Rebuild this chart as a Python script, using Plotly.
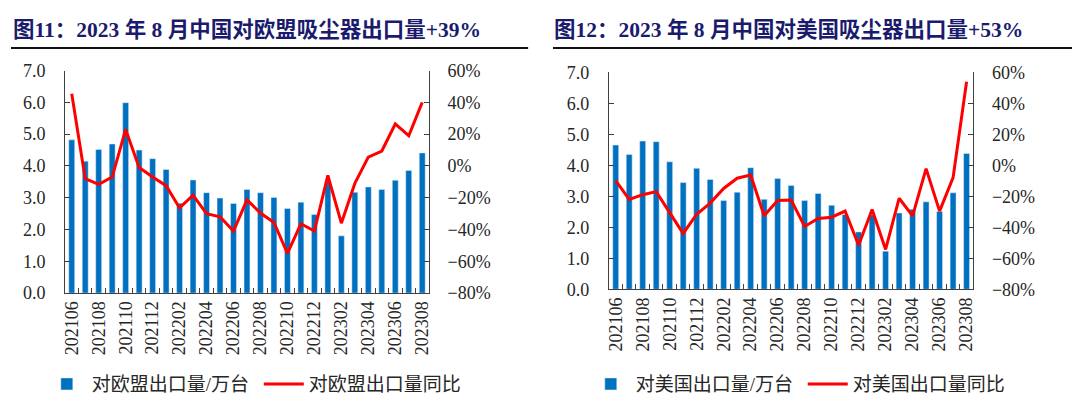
import plotly.graph_objects as go

months = ["202106", "202107", "202108", "202109", "202110", "202111", "202112",
          "202201", "202202", "202203", "202204", "202205", "202206", "202207",
          "202208", "202209", "202210", "202211", "202212", "202301", "202302",
          "202303", "202304", "202305", "202306", "202307", "202308"]
tick_text = [m if i % 2 == 0 else "" for i, m in enumerate(months)]

eu_volume = [4.82, 4.15, 4.52, 4.69, 5.99, 4.50, 4.23, 3.89, 2.83, 3.56, 3.16, 2.99,
             2.82, 3.26, 3.16, 3.01, 2.66, 2.86, 2.47, 3.50, 1.80, 3.17, 3.34, 3.26,
             3.55, 3.86, 4.41]
eu_yoy = [45.4, -8.0, -11.6, -7.0, 23.0, -1.0, -7.0, -12.4, -26.4, -18.4, -30.0, -32.0,
          -41.0, -21.4, -29.6, -35.6, -55.0, -36.4, -41.0, -6.0, -36.0, -11.0, 5.6, 9.4,
          26.4, 19.0, 40.0]

us_volume = [4.65, 4.35, 4.78, 4.76, 4.11, 3.44, 3.90, 3.54, 2.86, 3.13, 3.92, 2.90,
             3.57, 3.35, 2.86, 3.09, 2.71, 2.41, 1.85, 2.40, 1.23, 2.46, 2.58, 2.82,
             2.51, 3.11, 4.38]
us_yoy = [-10.0, -22.0, -19.0, -17.0, -30.6, -44.0, -31.6, -24.4, -15.0, -8.4, -6.3, -32.6,
          -22.8, -22.4, -39.5, -34.3, -33.5, -29.6, -51.6, -28.5, -54.3, -21.3, -32.7, -2.2,
          -29.6, -8.0, 53.8]

titles = ["图11：2023 年 8 月中国对欧盟吸尘器出口量+39%",
          "图12：2023 年 8 月中国对美国吸尘器出口量+53%"]
names_eu = ["对欧盟出口量/万台", "对欧盟出口量同比"]
names_us = ["对美国出口量/万台", "对美国出口量同比"]

W, H = 1080, 407
OFF = 8  # page body margin: figure origin sits at (8, 8) on screen
BAR = "#0070C0"
RED = "#FF0000"
AX = "#404040"
TXT = "#262626"
SERIF = "Liberation Serif, 'Noto Sans CJK SC', serif"
LEG_FONT = "Liberation Serif, 'Noto Sans CJK SC', serif"


def px_x(v):
    return (v - OFF) / W


def px_y(v):
    return 1 - (v - OFF) / H


fig = go.Figure()

# left chart
fig.add_trace(go.Bar(x=months, y=eu_volume, name=names_eu[0], marker_color=BAR,
                     xaxis="x", yaxis="y", legend="legend"))
fig.add_trace(go.Scatter(x=months, y=eu_yoy, name=names_eu[1], mode="lines",
                         line=dict(color=RED, width=3), xaxis="x", yaxis="y2",
                         legend="legend"))
# right chart
fig.add_trace(go.Bar(x=months, y=us_volume, name=names_us[0], marker_color=BAR,
                     xaxis="x2", yaxis="y3", legend="legend2"))
fig.add_trace(go.Scatter(x=months, y=us_yoy, name=names_us[1], mode="lines",
                         line=dict(color=RED, width=3), xaxis="x2", yaxis="y4",
                         legend="legend2"))


def xaxis_cfg(dom, anchor):
    return dict(domain=dom, anchor=anchor, type="category",
                tickmode="array", tickvals=months, ticktext=tick_text,
                tickson="boundaries", ticks="inside", ticklen=5, tickcolor=AX,
                tickangle=-90, showline=True, linecolor=AX, linewidth=1,
                showgrid=False, zeroline=False,
                tickfont=dict(family=SERIF, size=18, color=TXT),
                range=[-0.5, len(months) - 0.5])


def yleft_cfg(dom, anchor):
    return dict(domain=dom, anchor=anchor, range=[0, 7], dtick=1, tick0=0,
                tickformat=".1f", ticks="inside", ticklen=5, tickcolor=AX,
                showline=True, linecolor=AX, linewidth=1, showgrid=False,
                zeroline=False, ticklabelstandoff=15,
                tickfont=dict(family=SERIF, size=18, color=TXT))


def yright_cfg(overlay, anchor):
    return dict(overlaying=overlay, anchor=anchor, side="right", range=[-80, 60],
                dtick=20, tick0=-80, ticksuffix="%", ticks="inside", ticklen=5,
                tickcolor=AX, showline=True, linecolor=AX, linewidth=1,
                showgrid=False, zeroline=False, ticklabelstandoff=14,
                tickfont=dict(family=SERIF, size=18, color=TXT))


L_dom_x = [px_x(62.3), px_x(428.3)]
L_dom_y = [px_y(297.3), px_y(63.3)]
R_dom_x = [px_x(609.3), px_x(975.7)]
R_dom_y = [px_y(293.3), px_y(65.0)]

legend_common = dict(orientation="h", xanchor="left", yanchor="middle",
                     font=dict(family=LEG_FONT, size=19, color=TXT),
                     itemwidth=40, entrywidth=162, bgcolor="rgba(0,0,0,0)",
                     tracegroupgap=0)

fig.update_layout(
    width=W, height=H,
    margin=dict(l=0, r=0, t=0, b=0),
    paper_bgcolor="white", plot_bgcolor="white",
    bargap=0.56,
    xaxis=xaxis_cfg(L_dom_x, "y"),
    yaxis=yleft_cfg(L_dom_y, "x"),
    yaxis2=yright_cfg("y", "x"),
    xaxis2=xaxis_cfg(R_dom_x, "y3"),
    yaxis3=yleft_cfg(R_dom_y, "x2"),
    yaxis4=yright_cfg("y3", "x2"),
    legend=dict(x=px_x(39), y=px_y(393), **legend_common),
    legend2=dict(x=px_x(586), y=px_y(393), **legend_common),
    showlegend=True,
)

title_font = dict(family="Liberation Serif, 'Noto Sans CJK SC', serif", size=21.5,
                  color="#1B1B6E")
fig.add_annotation(text="<b>" + titles[0] + "</b>", xref="paper", yref="paper",
                   x=px_x(8), y=px_y(21), xanchor="left", yanchor="middle",
                   showarrow=False, font=title_font)
fig.add_annotation(text="<b>" + titles[1] + "</b>", xref="paper", yref="paper",
                   x=px_x(552), y=px_y(21), xanchor="left", yanchor="middle",
                   showarrow=False, font=title_font)

fig.add_shape(type="line", xref="paper", yref="paper", x0=px_x(8), x1=px_x(528),
              y0=px_y(39.5), y1=px_y(39.5), line=dict(color="#111111", width=2))
fig.add_shape(type="line", xref="paper", yref="paper", x0=px_x(553), x1=px_x(1075),
              y0=px_y(39.5), y1=px_y(39.5), line=dict(color="#111111", width=2))

fig.write_html("out.html")
